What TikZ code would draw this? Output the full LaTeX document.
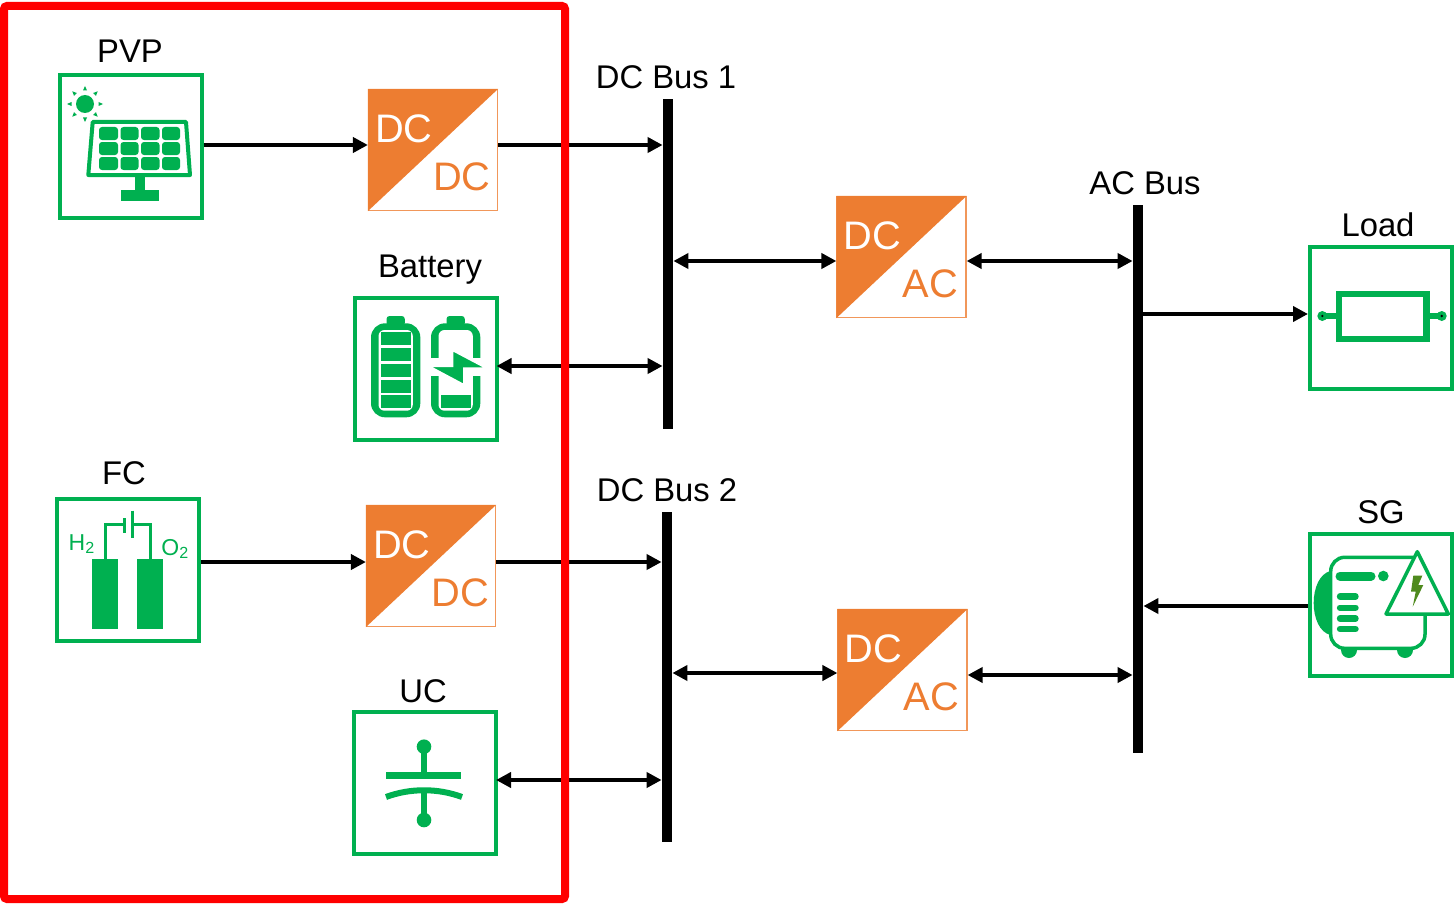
\documentclass[tikz,border=0pt]{standalone}
\usepackage{fontspec}
\setmainfont{Liberation Sans}
\usetikzlibrary{arrows.meta}
\definecolor{icongreen}{HTML}{00B050}
\definecolor{convorange}{HTML}{ED7D31}
\definecolor{boltgreen}{HTML}{4F8A1E}
\tikzset{
    unitbox/.style={draw=icongreen,line width=2pt,fill=white,minimum width=71pt,minimum height=71pt,inner sep=0pt},
    convbox/.style={draw=convorange!80,line width=0.6pt,fill=white,minimum width=64.5pt,minimum height=60.5pt,inner sep=0pt},
    busbar/.style={fill=black,minimum width=5pt,inner sep=0pt},
    caption/.style={font=\fontsize{16.4}{18}\selectfont,inner sep=0pt},
    convtext/.style={font=\fontsize{19.9}{22}\selectfont,inner sep=0pt},
    gastext/.style={font=\fontsize{11.5}{13}\selectfont,text=icongreen,inner sep=0pt},
    link/.style={line width=2pt,>={Triangle[length=7.5pt,width=7.5pt]}},
    cell/.style={fill=icongreen,rounded corners=1.5pt},
    wire/.style={draw=icongreen,line width=1.5pt},
    pill/.style={line width=3.2pt,draw=icongreen,line cap=round}
}
\begin{document}
\begin{tikzpicture}[x=0.5pt,y=-0.5pt]
    \useasboundingbox (0,0) rectangle (1455,904);

    \node[unitbox] (pvp) at (130.5,146.5) {};
    \node[unitbox] (battery) at (425.5,369) {};
    \node[unitbox] (fc) at (128,570) {};
    \node[unitbox] (uc) at (425,782.5) {};
    \node[unitbox] (load) at (1381,317.5) {};
    \node[unitbox] (sg) at (1381,605) {};

    \node[caption] (pvplabel) at (130,51) {PVP};
    \node[caption] (batterylabel) at (430,270) {Battery};
    \node[caption] (fclabel) at (124,473) {FC};
    \node[caption] (uclabel) at (423,691) {UC};
    \node[caption] (loadlabel) at (1378,225) {Load};
    \node[caption] (sglabel) at (1381,512) {SG};
    \node[caption] (bus1label) at (666,77) {DC Bus 1};
    \node[caption] (bus2label) at (667,490) {DC Bus 2};
    \node[caption] (acbuslabel) at (1145,183) {AC Bus};

    \node[busbar,minimum height=165pt] (bus1) at (668,264) {};
    \node[busbar,minimum height=165pt] (bus2) at (667,677) {};
    \node[busbar,minimum height=274pt] (acbus) at (1138,479) {};

    \foreach \nm/\cx/\cy/\low in {dcdc1/433/150/DC,dcdc2/431/566/DC,dcac1/901.5/257/AC,dcac2/902.5/670/AC}{
        \node[convbox] (\nm) at (\cx,\cy) {};
        \fill[convorange] (\nm.north west) -- (\nm.north east) -- (\nm.south west) -- cycle;
        \node[convtext,text=white] (\nm top) at (\cx-29,\cy-21) {DC};
        \node[convtext,text=convorange] (\nm low) at (\cx+29,\cy+27) {\low};
    }

    \coordinate (lvla) at (0,145);
    \coordinate (lvlb) at (0,261);
    \coordinate (lvlc) at (0,366);
    \coordinate (lvld) at (0,562);
    \coordinate (lvle) at (0,673);
    \coordinate (lvlf) at (0,675);
    \coordinate (lvlg) at (0,780);
    \coordinate (lvlh) at (0,314);
    \coordinate (lvli) at (0,606);

    \draw[link,->] (pvp.east |- lvla) -- (dcdc1.west |- lvla);
    \draw[link,->] (dcdc1.east |- lvla) -- (bus1.west |- lvla);
    \draw[link,<->] (bus1.east |- lvlb) -- (dcac1.west |- lvlb);
    \draw[link,<->] (dcac1.east |- lvlb) -- (acbus.west |- lvlb);
    \draw[link,<->,shorten <=-1pt] (battery.east |- lvlc) -- (bus1.west |- lvlc);
    \draw[link,->] (fc.east |- lvld) -- (dcdc2.west |- lvld);
    \draw[link,->] (dcdc2.east |- lvld) -- (bus2.west |- lvld);
    \draw[link,<->] (bus2.east |- lvle) -- (dcac2.west |- lvle);
    \draw[link,<->] (dcac2.east |- lvlf) -- (acbus.west |- lvlf);
    \draw[link,<->,shorten <=-1pt] (uc.east |- lvlg) -- (bus2.west |- lvlg);
    \draw[link,->] (acbus.east |- lvlh) -- (load.west |- lvlh);
    \draw[link,->] (sg.west |- lvli) -- (acbus.east |- lvli);

    \fill[icongreen] (85,104) circle (9);
    \foreach \a in {0,45,...,315}
        \fill[icongreen,shift={(85,104)},rotate=\a] (13.5,-2) -- (18,0) -- (13.5,2) -- cycle;
    \draw[icongreen,line width=2pt,line join=round] (92.7,122) -- (186,122) -- (190,175) -- (88.3,175) -- cycle;
    \foreach \xa/\xb in {99/118,120.5/138.5,141/159.5,162/180}
        \foreach \ya/\yb in {127/140,142/155,157/170}
            \fill[cell] (\xa,\ya) rectangle (\xb,\yb);
    \fill[icongreen] (135,175) rectangle (145,191);
    \fill[icongreen] (120.5,190) rectangle (159,200.5);

    \foreach \xl/\xr in {371/420.3,431/480.3}{
        \fill[icongreen,rounded corners=7pt] (\xl,323.3) rectangle (\xr,417.3);
        \fill[icongreen,rounded corners=1.5pt] (\xl+15.5,316) rectangle (\xr-15.5,326);
        \fill[white,rounded corners=3pt] (\xl+7.5,330) rectangle (\xr-7.5,410.7);
    }
    \foreach \ya/\yb in {332.3/345,347.7/361,364/377.3,380/392.7,395.3/408.3}
        \fill[icongreen] (381,\ya) rectangle (410.7,\yb);
    \fill[icongreen] (441,395.3) rectangle (471,408.3);
    \fill[white] (430,358.3) rectangle (440,376);
    \fill[white] (471,358.3) rectangle (482,376);
    \filldraw[fill=icongreen,draw=white,line width=1pt,line join=miter] (452.3,350) -- (487,368.3) -- (464,368.3) -- (464,385) -- (428.3,366) -- (452.3,366) -- cycle;

    \fill[icongreen] (91.7,559.3) rectangle (118.3,629.3);
    \fill[icongreen] (136.7,559.3) rectangle (163.3,629.3);
    \draw[wire] (105.5,559.3) -- (105.5,524.3) -- (124.3,524.3);
    \draw[wire] (124.3,518.3) -- (124.3,532.7);
    \draw[wire] (132.3,510.7) -- (132.3,538.3);
    \draw[wire] (132.3,524.3) -- (150.3,524.3) -- (150.3,559.3);
    \node[gastext] (htwo) at (82,544) {H\textsubscript{2}};
    \node[gastext] (otwo) at (175.3,549) {O\textsubscript{2}};

    \fill[icongreen] (424,746.7) circle (7.3);
    \fill[icongreen] (424,820) circle (7.3);
    \draw[icongreen,line width=3pt] (424,746.7) -- (424,775);
    \draw[icongreen,line width=3pt] (424,790) -- (424,820);
    \fill[icongreen] (385.7,771.7) rectangle (461,778.7);
    \draw[icongreen,line width=3pt] (386,797) .. controls (410,788) and (438,788) .. (462,797);

    \draw[icongreen,line width=3.3pt] (1339,294) rectangle (1426.7,339);
    \draw[icongreen,line width=3pt] (1322.3,316) -- (1339,316);
    \draw[icongreen,line width=3pt] (1426.7,316) -- (1441.7,316);
    \fill[icongreen] (1322.3,316) circle (5);
    \fill[icongreen] (1441.7,316) circle (5);
    \fill[black] (1322.3,316) circle (1.3);
    \fill[black] (1441.7,316) circle (1.3);

    \fill[icongreen] (1330.7,571) .. controls (1308,576) and (1308,630) .. (1330.7,635) -- cycle;
    \fill[icongreen] (1349,650) circle (8);
    \fill[icongreen] (1405,650) circle (8);
    \filldraw[draw=icongreen,fill=white,line width=1.75pt,rounded corners=7pt] (1330.7,557.3) rectangle (1425,648.3);
    \draw[icongreen,line width=4.5pt,line cap=round] (1340,576) -- (1371,576);
    \fill[icongreen] (1383.3,576) circle (5.3);
    \foreach \yy in {596.5,607.7,618.5,629}
        \draw[pill] (1340,\yy) -- (1355.5,\yy);
    \filldraw[draw=icongreen,fill=white,line width=1.75pt,line join=round] (1417.3,551.7) -- (1386,614) -- (1448.3,614) -- cycle;
    \fill[boltgreen] (1413.3,575.7) -- (1422.3,575.7) -- (1418.3,585) -- (1423.3,585) -- (1412.7,606.7) -- (1415.7,591.7) -- (1411,591.7) -- cycle;

    \draw[red,line width=4pt,rounded corners=1.5pt] (4,6) rectangle (565,899);
\end{tikzpicture}
\end{document}
